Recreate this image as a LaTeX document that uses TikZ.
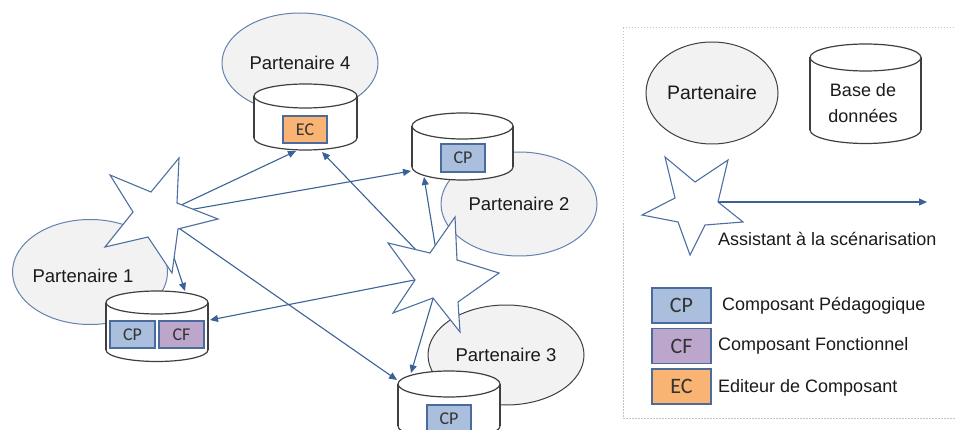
\documentclass[tikz,border=0pt]{standalone}
\usepackage{fontspec}
\setmainfont{Liberation Sans}
\newfontfamily\boxfont{Carlito}
\usetikzlibrary{arrows.meta,shapes.geometric}
\definecolor{ellfill}{HTML}{F2F2F2}
\definecolor{ellblue}{HTML}{6383AE}
\definecolor{cylgray}{HTML}{3F3F3F}
\definecolor{arrblue}{HTML}{3A6296}
\definecolor{starblue}{HTML}{4E70A0}
\definecolor{cpfill}{HTML}{A9BFDD}
\definecolor{cffill}{HTML}{BCA6CC}
\definecolor{ecfill}{HTML}{F9B373}
\definecolor{boxedge}{HTML}{4A6B9C}
\definecolor{legendedge}{HTML}{C4C4C4}
\definecolor{txt}{HTML}{1A1A1A}
\newcommand\dbcyl[5]{%
  \filldraw[fill=white,draw=cylgray,cylline] (#1,#4) ellipse [x radius=#2,y radius=#5];
  \fill[white] (#1-#2,#3) rectangle (#1+#2,#4);
  \draw[cylgray,cylline] (#1-#2,#3) -- (#1-#2,#4) (#1+#2,#3) -- (#1+#2,#4);
  \filldraw[fill=white,draw=cylgray,cylline] (#1,#3) ellipse [x radius=#2,y radius=#5];}
\begin{document}
\begin{tikzpicture}[x=1pt,y=-1pt,
  cylline/.style={line width=1.2pt},
  partner/.style={ellipse,draw=ellblue,fill=ellfill,line width=1pt,inner sep=0pt,
    text=txt,font=\fontsize{18.5}{22}\selectfont},
  partnergray/.style={partner,draw=cylgray},
  comp/.style={draw=boxedge,line width=1.3pt,inner sep=0pt,text=black!80,
    font=\boxfont\fontsize{18}{20}\selectfont},
  legcomp/.style={comp,minimum width=59pt,minimum height=35pt,
    font=\boxfont\fontsize{22}{24}\selectfont},
  legtext/.style={anchor=west,inner sep=0pt,text=txt,font=\fontsize{18}{22}\selectfont},
  link/.style={draw=arrblue,line width=1.1pt,-{Triangle[length=8pt,width=7pt]}},
  starshape/.style={draw=starblue,fill=white,line width=1.1pt,line join=miter}
]
\useasboundingbox (0,0) rectangle (955,430);
\clip (0,0) rectangle (955,430);

% partner ellipses
\node[partner,minimum width=156pt,minimum height=100pt] (p4) at (300,63) {Partenaire 4};
\node[partner,minimum width=156pt,minimum height=104pt] (p2) at (519,204) {Partenaire 2};
\node[partnergray,minimum width=156pt,minimum height=100pt] (p3) at (506,355) {Partenaire 3};
\node[partner,minimum width=155pt,minimum height=105pt] (p1) at (90,272) {};
\node[inner sep=0pt,text=txt,font=\fontsize{18.5}{22}\selectfont] (p1t) at (83,276) {Partenaire 1};

% databases
\dbcyl{305.5}{51.5}{96}{138}{12}
\node[comp,fill=ecfill,minimum width=44pt,minimum height=27pt] (ec4) at (305,129.5) {EC};
\dbcyl{462.5}{50.5}{126}{167}{13}
\node[comp,fill=cpfill,minimum width=44pt,minimum height=28pt] (cp2) at (463,158) {CP};
\dbcyl{157}{51}{302.5}{350}{11.5}
\node[comp,fill=cpfill,minimum width=45pt,minimum height=27pt] (cp1) at (132.5,334.5) {CP};
\node[comp,fill=cffill,minimum width=45pt,minimum height=27pt] (cf1) at (181.5,334.5) {CF};
\dbcyl{449}{51}{384}{426}{13}
\node[comp,fill=cpfill,minimum width=44pt,minimum height=27pt] (cp3) at (449,418.5) {CP};

% anchor points
\coordinate (s1) at (160,215);
\coordinate (s2) at (440,275);
\coordinate (c4a) at (296,151);
\coordinate (c4b) at (322,152);
\coordinate (c2a) at (411,171);
\coordinate (c2b) at (424,177);
\coordinate (c1a) at (185,291);
\coordinate (c1b) at (210,320);
\coordinate (c3a) at (397,380);
\coordinate (c3b) at (411,373);

% connectors
\draw[link] (s1) -- (c4a);
\draw[link] (s1) -- (c2a);
\draw[link] (s1) -- (c3a);
\draw[link] (s1) -- (c1a);
\draw[link] (s2) -- (c4b);
\draw[link] (s2) -- (c2b);
\draw[link] (s2) -- (c1b);
\draw[link] (s2) -- (c3b);

% assistants (stars)
\draw[starshape] (179,158) -- (177,203) -- (218,219) -- (178,229) -- (172,273) -- (148,237)
  -- (105,247) -- (133,212) -- (110,175) -- (151,192) -- cycle;
\draw[starshape] (455,217) -- (457,260) -- (499,273) -- (458,302) -- (460,332) -- (433,298)
  -- (393,313) -- (415,280) -- (388,243) -- (430,253) -- cycle;

% legend
\draw[legendedge,line width=1pt,dash pattern=on 1.5pt off 1.5pt] (623,28) rectangle (970,418);
\node[partnergray,minimum width=132pt,minimum height=102pt,font=\fontsize{19.5}{22}\selectfont] (lp) at (712,93) {Partenaire};
\dbcyl{865.5}{55.5}{57.5}{130}{13.5}
\node[align=center,inner sep=0pt,text=txt,font=\fontsize{18}{26}\selectfont] (ldb) at (863,103) {Base de\\données};
\coordinate (ls) at (695,202);
\coordinate (la) at (927,202);
\draw[link] (ls) -- (la);
\draw[starshape] (642,215) -- (675,198) -- (665,157) -- (695,182) -- (728,160) -- (718,202)
  -- (743,222) -- (705,225) -- (690,255) -- (678,222) -- cycle;
\node[legtext] (lst) at (718,239) {Assistant à la scénarisation};
\node[legcomp,fill=cpfill] (lcp) at (681.5,305.5) {CP};
\node[legcomp,fill=cffill] (lcf) at (681.5,346) {CF};
\node[legcomp,fill=ecfill] (lec) at (681.5,386.5) {EC};
\node[legtext] (lcpt) at (722,306) {Composant Pédagogique};
\node[legtext] (lcft) at (718,346) {Composant Fonctionnel};
\node[legtext] (lect) at (718,388) {Editeur de Composant};
\end{tikzpicture}
\end{document}
